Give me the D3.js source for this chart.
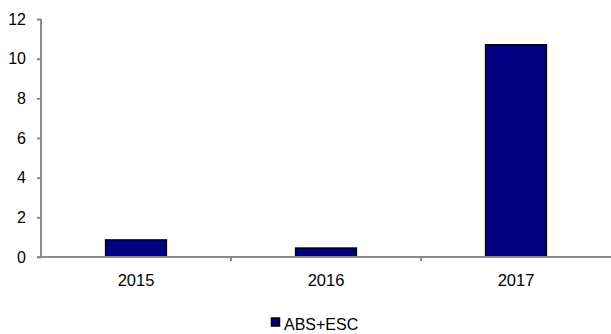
<!DOCTYPE html>
<html>
<head>
<meta charset="utf-8">
<script src="https://cdn.jsdelivr.net/npm/d3@7"></script>
<style>
  body { margin: 0; background: #fff; }
  svg { display: block; font-family: "Liberation Sans", Arial, sans-serif; }
</style>
</head>
<body>
<svg id="chart" width="611" height="334"></svg>
<script>
// Yearly values for the ABS+ESC series
const years = ["2015", "2016", "2017"];
const values = [0.86, 0.45, 10.7];
const yTicks = [0, 2, 4, 6, 8, 10, 12];
const seriesName = "ABS+ESC";

(function () {
  const svg = d3.select("#chart");
  const plotLeft = 41, plotRight = 611, plotTop = 19, plotBottom = 257;

  const x = d3.scaleBand().domain(years).range([plotLeft, plotRight]).paddingInner(0.68).paddingOuter(0.34);
  const xBand = d3.scaleBand().domain(years).range([plotLeft, plotRight]);
  const y = d3.scaleLinear().domain([0, 12]).range([plotBottom, plotTop]);

  const axisColor = "#8a8a8a";

  // Bars
  svg.append("g").selectAll("rect").data(values).join("rect")
    .attr("x", (d, i) => x(years[i]))
    .attr("y", d => y(d))
    .attr("width", x.bandwidth())
    .attr("height", d => y(0) - y(d))
    .attr("fill", "#000080")
    .attr("stroke", "#000")
    .attr("stroke-width", 1.5);

  // Y axis
  const yAxis = svg.append("g").attr("transform", `translate(${plotLeft},0)`)
    .call(d3.axisLeft(y).tickValues(yTicks).tickSize(4).tickPadding(11));
  yAxis.selectAll("path, line").attr("stroke", axisColor).attr("stroke-width", 2);
  yAxis.select(".domain").attr("d", `M0,${plotTop}V${plotBottom}`);
  yAxis.selectAll("text").attr("font-size", 16).attr("fill", "#000")
    .attr("font-family", "Liberation Sans, Arial, sans-serif");

  // X axis: line with tick marks between categories
  const xAxisG = svg.append("g");
  xAxisG.append("line")
    .attr("x1", plotLeft - 4).attr("x2", plotRight)
    .attr("y1", plotBottom).attr("y2", plotBottom)
    .attr("stroke", axisColor).attr("stroke-width", 2);
  const boundaries = years.slice(1).map(c => xBand(c));
  xAxisG.selectAll("line.tk").data(boundaries).join("line")
    .attr("class", "tk")
    .attr("x1", d => d).attr("x2", d => d)
    .attr("y1", plotBottom).attr("y2", plotBottom + 4)
    .attr("stroke", axisColor).attr("stroke-width", 2);
  xAxisG.selectAll("text").data(years).join("text")
    .attr("x", d => xBand(d) + xBand.bandwidth() / 2)
    .attr("y", 285.5)
    .attr("text-anchor", "middle")
    .attr("font-size", 16.5)
    .text(d => d);

  // Legend
  const lg = svg.append("g").attr("transform", "translate(271.5,318)");
  lg.append("rect").attr("x", 0).attr("y", 0).attr("width", 8).attr("height", 8)
    .attr("fill", "#000080").attr("stroke", "#000").attr("stroke-width", 1.5);
  lg.append("text").attr("x", 12.5).attr("y", 12).attr("font-size", 16).text(seriesName);
})();
</script>
</body>
</html>
